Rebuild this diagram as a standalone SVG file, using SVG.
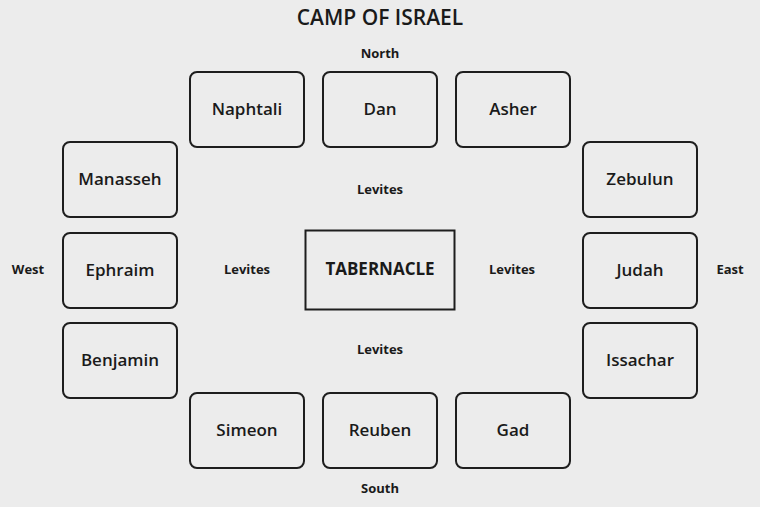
<svg xmlns="http://www.w3.org/2000/svg" width="760" height="507" viewBox="0 0 760 507">
<style>
.bg{fill:#ececec}
.tribe rect{fill:#ececec;stroke:#1e1e1e;stroke-width:2}
.lbl{font-family:"Open Sans","DejaVu Sans",sans-serif;font-weight:600;font-size:17px;fill:#1a1a1a;text-anchor:middle;dominant-baseline:central}
.bold{font-weight:700}
.sm{font-family:"Open Sans","DejaVu Sans",sans-serif;font-weight:700;font-size:13px;fill:#1a1a1a;text-anchor:middle;dominant-baseline:central}
.title{font-family:"Open Sans","DejaVu Sans",sans-serif;font-weight:600;font-size:21px;fill:#1a1a1a;text-anchor:middle;dominant-baseline:central}
</style>
<rect class="bg" x="0" y="0" width="760" height="507"/>
<text class="title" x="380" y="17">CAMP OF ISRAEL</text>
<text class="sm" x="380" y="53">North</text>
<text class="sm" x="380" y="488">South</text>
<text class="sm" x="28" y="269">West</text>
<text class="sm" x="730" y="269">East</text>
<text class="sm" x="380" y="189">Levites</text>
<text class="sm" x="247" y="269">Levites</text>
<text class="sm" x="512" y="269">Levites</text>
<text class="sm" x="380" y="349">Levites</text>
<g id="tabernacle" class="tribe"><rect x="305.5" y="230.5" width="149" height="79" rx="0"/><text class="lbl bold" x="380" y="268">TABERNACLE</text></g>
<g id="naphtali" class="tribe"><rect x="190" y="72" width="114" height="75" rx="7"/><text class="lbl" x="247" y="108">Naphtali</text></g>
<g id="dan" class="tribe"><rect x="323" y="72" width="114" height="75" rx="7"/><text class="lbl" x="380" y="108">Dan</text></g>
<g id="asher" class="tribe"><rect x="456" y="72" width="114" height="75" rx="7"/><text class="lbl" x="513" y="108">Asher</text></g>
<g id="manasseh" class="tribe"><rect x="63" y="142" width="114" height="75" rx="7"/><text class="lbl" x="120" y="178">Manasseh</text></g>
<g id="ephraim" class="tribe"><rect x="63" y="233" width="114" height="75" rx="7"/><text class="lbl" x="120" y="269">Ephraim</text></g>
<g id="benjamin" class="tribe"><rect x="63" y="323" width="114" height="75" rx="7"/><text class="lbl" x="120" y="359">Benjamin</text></g>
<g id="zebulun" class="tribe"><rect x="583" y="142" width="114" height="75" rx="7"/><text class="lbl" x="640" y="178">Zebulun</text></g>
<g id="judah" class="tribe"><rect x="583" y="233" width="114" height="75" rx="7"/><text class="lbl" x="640" y="269">Judah</text></g>
<g id="issachar" class="tribe"><rect x="583" y="323" width="114" height="75" rx="7"/><text class="lbl" x="640" y="359">Issachar</text></g>
<g id="simeon" class="tribe"><rect x="190" y="393" width="114" height="75" rx="7"/><text class="lbl" x="247" y="429">Simeon</text></g>
<g id="reuben" class="tribe"><rect x="323" y="393" width="114" height="75" rx="7"/><text class="lbl" x="380" y="429">Reuben</text></g>
<g id="gad" class="tribe"><rect x="456" y="393" width="114" height="75" rx="7"/><text class="lbl" x="513" y="429">Gad</text></g>
<g id="connectors"></g>
</svg>
